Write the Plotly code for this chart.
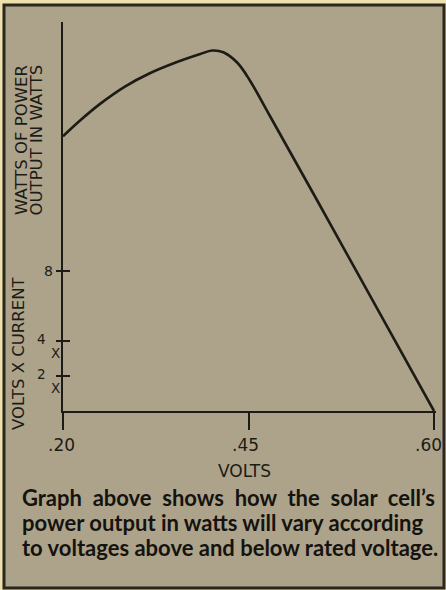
import numpy as np
import plotly.graph_objects as go

# Solar cell power curve: volts across the cell vs. power output (watts)
VOLTS = [0.20, 0.223, 0.25, 0.284, 0.317, 0.351, 0.385, 0.401, 0.416, 0.435, 0.451, 0.467, 0.505, 0.60]
WATTS = [15.7, 16.6, 17.55, 18.55, 19.3, 19.9, 20.4, 20.6, 20.5, 19.9, 18.9, 16.9, 12.1, 0.0]

X_TICK_VOLTS = [0.20, 0.45, 0.60]
X_TICK_TEXT = [".20", ".45", ".60"]
Y_TICK_WATTS = [2, 4, 8]
Y_TICK_DIGITS = ["2", "4", "8"]
Y_TICK_SUFFIX = ["X", "X", ""]

CAPTION = [
    "Graph&nbsp; above&nbsp; shows&nbsp; how&nbsp; the&nbsp; solar&nbsp; cell’s",
    "power output in watts will vary according",
    "to voltages above and below rated voltage.",
]

W, H = 446, 590
ML, MR, MT, MB = 63, 10, 22, 179
PW, PH = W - ML - MR, H - MT - MB

INK = "#1d1b16"
PANEL = "#ada38a"
CREAM = "#eee0ad"
AXFONT = "DejaVu Sans"

# the marked voltages sit evenly spaced along the axis
TICK_POS = list(range(len(X_TICK_VOLTS)))


def volt_axis(v):
    return np.interp(v, X_TICK_VOLTS, TICK_POS)


X_RANGE = [0, 2 * PW / (PW - 2)]
Y_RANGE = [0, PH / 17.5]


def px(x):
    return (x - ML) / PW


def py(y):
    return (H - MB - y) / PH


def label(x, y, text, size, xref="paper", yref="paper", **kw):
    d = dict(x=x, y=y, xref=xref, yref=yref, text=text, showarrow=False,
             xanchor="center", yanchor="middle",
             font=dict(family=AXFONT, size=size, color=INK))
    d.update(kw)
    return d


fig = go.Figure()
fig.add_trace(go.Scatter(
    x=volt_axis(VOLTS), y=WATTS, mode="lines",
    line=dict(color=INK, width=2.6, shape="spline", smoothing=1.0),
    hoverinfo="skip", showlegend=False,
))

shapes = [
    # cream page edge and tan panel with dark frame
    dict(type="rect", xref="paper", yref="paper", x0=px(0), x1=px(W), y0=py(H), y1=py(0),
         fillcolor=CREAM, line_width=0, layer="below"),
    dict(type="rect", xref="paper", yref="paper", x0=px(4), x1=px(444), y0=py(588), y1=py(5),
         fillcolor=PANEL, line=dict(color="#2a271e", width=3), layer="below"),
]
for w in Y_TICK_WATTS:
    shapes.append(dict(type="line", xref="paper", yref="y", x0=px(56), x1=px(70), y0=w, y1=w,
                       line=dict(color=INK, width=2)))

annotations = []
for w, d, s in zip(Y_TICK_WATTS, Y_TICK_DIGITS, Y_TICK_SUFFIX):
    if s:
        annotations.append(label(px(41), w, d, 13.5, yref="y", yshift=2))
        annotations.append(label(px(55), w, s, 13.5, yref="y", yshift=-12))
    else:
        annotations.append(label(px(48), w, d, 14, yref="y"))

# voltage tick labels, nudged left so the last one stays inside the frame
for pos, t, shift in zip(TICK_POS, X_TICK_TEXT, [-2, -3, -6]):
    annotations.append(label(pos, py(445), t, 17, xref="x", xshift=shift))

# axis titles
annotations += [
    label(px(21), py(63), "WATTS OF POWER", 16.5, textangle=-90, yanchor="top"),
    label(px(36), py(63), "OUTPUT IN WATTS", 16.5, textangle=-90, yanchor="top"),
    label(px(18), py(353), "VOLTS X CURRENT", 16.5, textangle=-90),
    label(px(244), py(471), "VOLTS", 17),
]

for i, line in enumerate(CAPTION):
    annotations.append(dict(x=px(20), y=py(497 + 25 * i), xref="paper", yref="paper", text=line,
                            showarrow=False, xanchor="left", yanchor="middle",
                            font=dict(family="Lato", size=22, color="#15130f", weight=700)))

fig.update_layout(
    width=W, height=H,
    margin=dict(l=ML, r=MR, t=MT, b=MB, pad=0),
    paper_bgcolor=CREAM, plot_bgcolor="rgba(0,0,0,0)",
    shapes=shapes, annotations=annotations,
    xaxis=dict(range=X_RANGE, tickvals=TICK_POS, ticktext=X_TICK_TEXT, showticklabels=False,
               showline=True, linecolor=INK, linewidth=2, showgrid=False, zeroline=False,
               ticks="outside", ticklen=17, tickwidth=2, tickcolor=INK, fixedrange=True),
    yaxis=dict(range=Y_RANGE, showline=True, linecolor=INK, linewidth=2, showgrid=False,
               zeroline=False, showticklabels=False, ticks="", fixedrange=True),
)

fig.write_html("out.html")
